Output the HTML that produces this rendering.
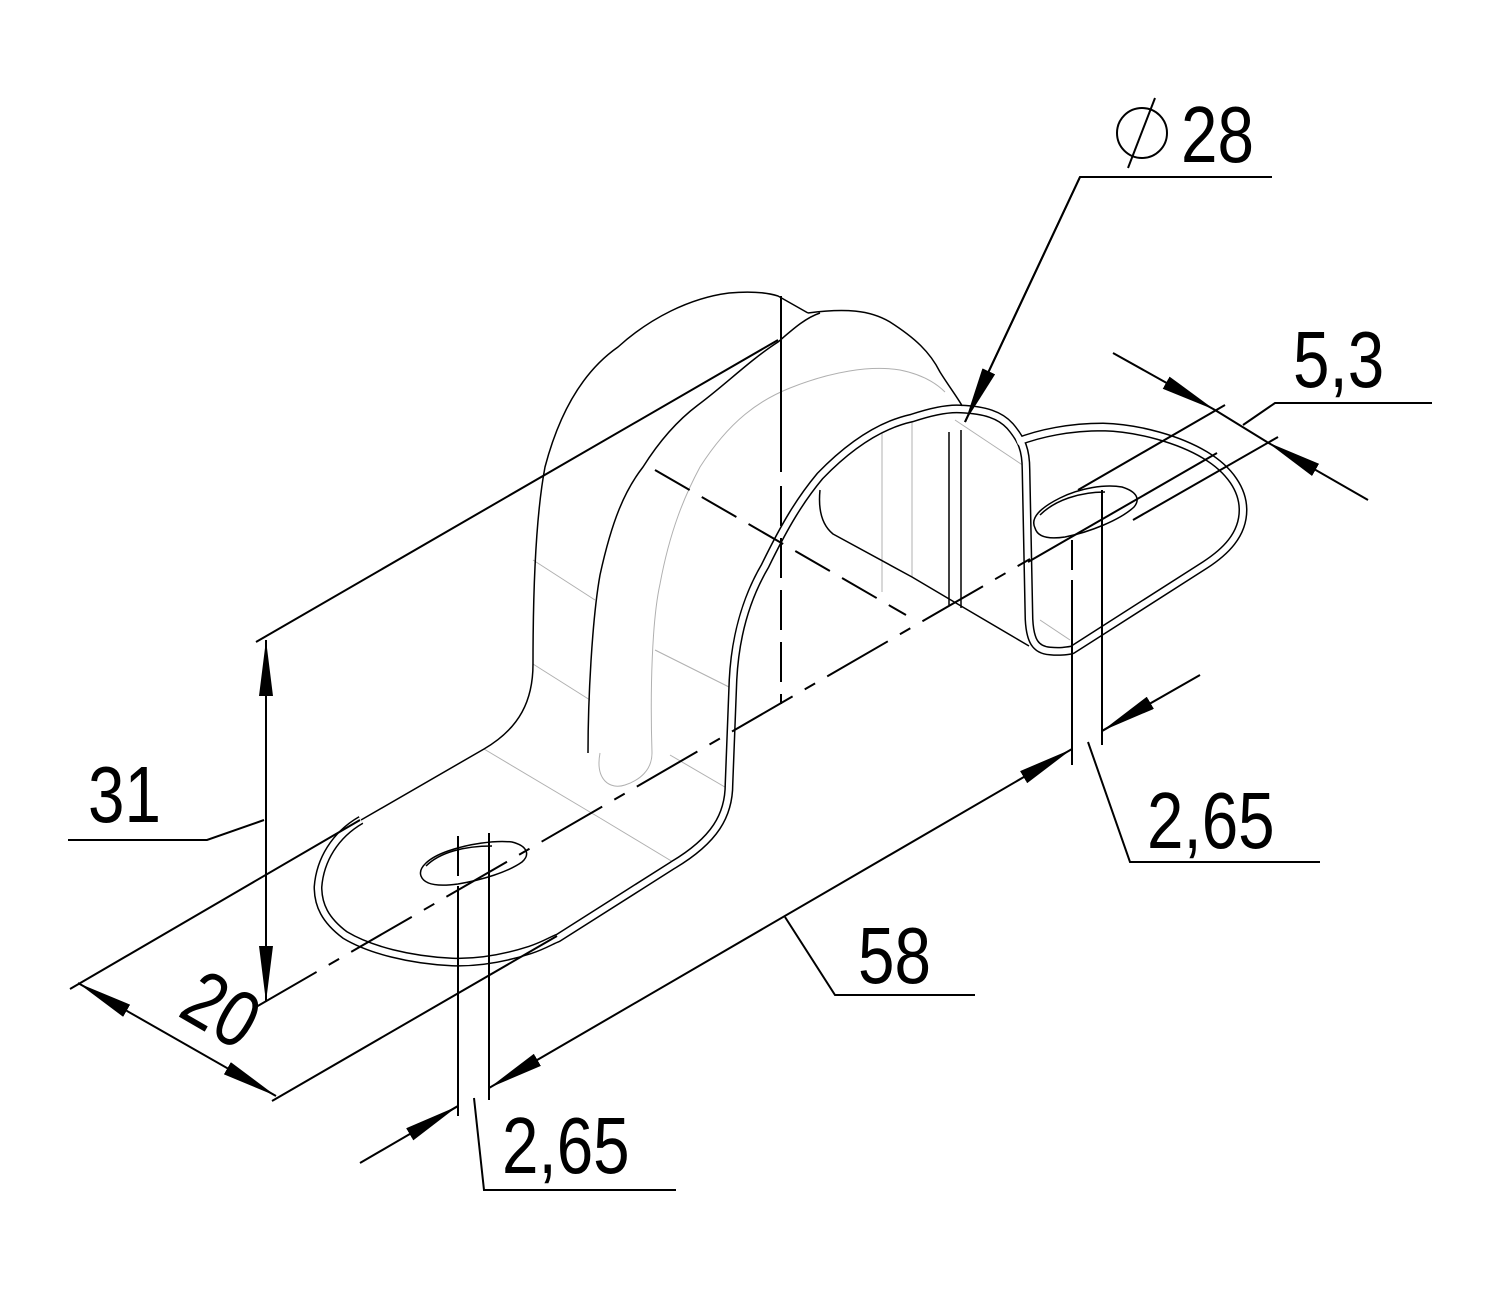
<!DOCTYPE html>
<html><head><meta charset="utf-8"><style>html,body{margin:0;padding:0;background:#fff}svg{display:block}</style></head>
<body>
<svg width="1500" height="1300" viewBox="0 0 1500 1300" xmlns="http://www.w3.org/2000/svg">
<rect width="1500" height="1300" fill="#fff"/>
<defs>
<marker id="b" viewBox="0 0 56 14" refX="56" refY="7" markerWidth="56" markerHeight="14" markerUnits="userSpaceOnUse" orient="auto-start-reverse"><path d="M0,0 L56,7 L0,14 z" fill="#000"/></marker>
</defs>
<g fill="none" stroke="#b0b0b0" stroke-width="1">
<path d="M652,753 C650,690 652,620 660,584 C670,530 685,495 700,467 C730,420 760,400 790,388 C830,372 870,365 900,370 C925,375 938,385 945,392"/>
<path d="M600,753 C595,780 610,790 625,785 C640,780 652,770 652,753"/>
<line x1="533" y1="664" x2="590" y2="700"/>
<line x1="484" y1="749" x2="600" y2="818"/>
<line x1="533" y1="560" x2="595" y2="600"/>
<line x1="600" y1="818" x2="673" y2="862"/>
<line x1="655" y1="650" x2="735" y2="690"/>
<line x1="670" y1="755" x2="730" y2="790"/>
<line x1="882" y1="432" x2="882" y2="592"/>
<line x1="912" y1="420" x2="912" y2="577"/>
<line x1="955" y1="420" x2="1030" y2="470"/>
<line x1="1040" y1="620" x2="1070" y2="640"/>
</g>
<g fill="none" stroke="#000" stroke-width="1.5" stroke-linejoin="round">
<path d="M361,820 L484,749 C520,728 533,700 533,664 C533,600 535,520 545,467 C560,410 585,370 618,347 C650,318 690,298 729,293 C750,291 765,292 778,296 L808,313"/>
<path d="M808,313 C845,308 870,310 890,322 C915,338 930,352 940,372 C950,388 958,398 964,409"/>
<path d="M588,753 C588,700 592,620 600,575 C612,520 625,490 643,467 C660,440 678,420 698,405 C725,385 750,360 778,342 C792,330 805,318 820,313"/>
<path d="M820,490 C818,510 822,525 833,534 L912,577 L961,606 L1029,646"/>
<line x1="949" y1="432" x2="949" y2="605"/>
<line x1="961" y1="430" x2="961" y2="608"/>
<path d="M1035,528 C1030,518 1040,508 1060,498 C1080,488 1105,484 1122,487 C1138,492 1140,500 1134,507 C1120,520 1090,532 1065,537 C1045,540 1037,535 1035,528 z"/>
<path d="M1040,515 C1055,500 1080,492 1105,492"/>
<path d="M421,876 C418,868 428,858 448,851 C468,844 495,840 512,842 C528,846 530,855 522,862 C508,872 482,880 458,884 C436,887 424,884 421,876 z"/>
<path d="M426,866 C440,852 465,846 492,846"/>
</g>
<path d="M361,820 C335,835 320,860 318,887 C318,905 325,920 345,935 C370,950 410,960 452,962 C480,963 505,958 530,950 C545,945 552,940 558,938 L673,865 C715,840 729,815 729,784 L733,680 C735,640 745,600 765,566 C785,525 800,500 820,476 C850,445 880,425 912,418 C930,412 948,408 961,409 C985,410 1000,415 1010,426 C1022,440 1026,450 1026,470 L1029,619 C1030,640 1035,650 1050,651 C1060,652 1066,651 1072,650 L1205,565 C1225,552 1243,535 1243,510 C1243,490 1230,470 1205,455 C1180,440 1140,428 1103,427 C1070,427 1040,433 1017,442" fill="none" stroke="#000" stroke-width="9" stroke-linejoin="round"/>
<path d="M361,820 C335,835 320,860 318,887 C318,905 325,920 345,935 C370,950 410,960 452,962 C480,963 505,958 530,950 C545,945 552,940 558,938 L673,865 C715,840 729,815 729,784 L733,680 C735,640 745,600 765,566 C785,525 800,500 820,476 C850,445 880,425 912,418 C930,412 948,408 961,409 C985,410 1000,415 1010,426 C1022,440 1026,450 1026,470 L1029,619 C1030,640 1035,650 1050,651 C1060,652 1066,651 1072,650 L1205,565 C1225,552 1243,535 1243,510 C1243,490 1230,470 1205,455 C1180,440 1140,428 1103,427 C1070,427 1040,433 1017,442" fill="none" stroke="#fff" stroke-width="6" stroke-linejoin="round"/>
<g fill="none" stroke="#000" stroke-width="2">
<line x1="256" y1="1007" x2="1030" y2="559" stroke-dasharray="70 14 12 14"/>
<line x1="781" y1="296" x2="781" y2="704" stroke-dasharray="176 14 40 12 40 12 40 12 40 12"/>
<line x1="655" y1="470" x2="906" y2="615" stroke-dasharray="40 14"/>
<line x1="458" y1="836" x2="458" y2="1116" stroke-dasharray="40 10 240"/>
<line x1="489" y1="833" x2="489" y2="1100"/>
<line x1="1072" y1="540" x2="1072" y2="765" stroke-dasharray="30 10 200"/>
<line x1="1102" y1="490" x2="1102" y2="745"/>
<line x1="256" y1="642" x2="778" y2="340"/>
<line x1="266" y1="640" x2="266" y2="1002" marker-start="url(#b)" marker-end="url(#b)"/>
<polyline points="264,820 207,840 68,840"/>
<line x1="70" y1="989" x2="360" y2="820"/>
<line x1="272" y1="1101" x2="557" y2="936"/>
<line x1="78" y1="983" x2="276" y2="1096" marker-start="url(#b)" marker-end="url(#b)"/>
<line x1="360" y1="1163" x2="458" y2="1106" />
<line x1="489" y1="1088" x2="1072" y2="749" marker-start="url(#b)" marker-end="url(#b)"/>
<line x1="1102" y1="731" x2="1200" y2="675" />
<line x1="458" y1="1106" x2="412" y2="1133" marker-start="url(#b)"/>
<line x1="1102" y1="731" x2="1150" y2="703" marker-start="url(#b)"/>
<polyline points="785,917 835,995 975,995"/>
<polyline points="474,1098 484,1190 676,1190"/>
<polyline points="1088,742 1130,862 1320,862"/>
<line x1="1113" y1="353" x2="1215" y2="410" marker-end="url(#b)"/>
<line x1="1215" y1="410" x2="1267" y2="442"/>
<line x1="1368" y1="500" x2="1267" y2="442" marker-end="url(#b)"/>
<line x1="1225" y1="405" x2="1078" y2="490"/>
<line x1="1217" y1="453" x2="1028" y2="562"/>
<line x1="1278" y1="437" x2="1133" y2="520"/>
<polyline points="1243,425 1275,403 1432,403"/>
<polyline points="1272,177 1080,177 965,422" />
<line x1="1080" y1="177" x2="965" y2="422" marker-end="url(#b)"/>
<circle cx="1142" cy="133" r="25"/>
<line x1="1155" y1="98" x2="1128" y2="168"/>
</g>
<g font-family="Liberation Sans, sans-serif" font-size="80" fill="#000">
<text transform="translate(88,822) scale(0.82,1)">31</text>
<text transform="translate(176,1015) rotate(30) scale(0.82,1)">20</text>
<text transform="translate(858,983) scale(0.82,1)">58</text>
<text transform="translate(502,1173) scale(0.82,1)">2,65</text>
<text transform="translate(1147,848) scale(0.82,1)">2,65</text>
<text transform="translate(1293,387) scale(0.82,1)">5,3</text>
<text transform="translate(1181,162) scale(0.82,1)">28</text>
</g>
</svg>
</body></html>
